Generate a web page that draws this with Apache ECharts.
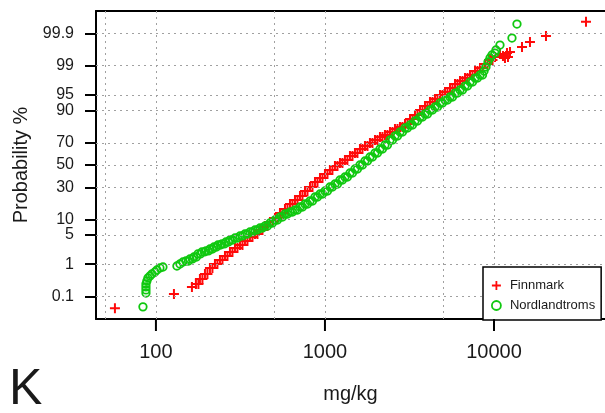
<!DOCTYPE html>
<html>
<head>
<meta charset="utf-8">
<script src="https://cdn.jsdelivr.net/npm/echarts@6/dist/echarts.min.js"></script>
<style>
  html, body { margin: 0; padding: 0; background: #fff; }
  #chart { width: 605px; height: 413px; }
</style>
</head>
<body>
<div id="chart"></div>
<script>
// Cumulative probability (%) tick marks and their labels
const PCT_TICKS = [0.1, 1, 5, 10, 30, 50, 70, 90, 95, 99, 99.9];
const PCT_TICK_LABELS = ['0.1', '1', '5', '10', '30', '50', '70', '90', '95', '99', '99.9'];
// Concentration axis (mg/kg): labelled decades and dotted reference lines
const X_TICKS = [100, 1000, 10000];
const X_GRID = [50, 100, 500, 1000, 5000, 10000];

// K (mg/kg) vs cumulative probability (%), Finnmark
const FINNMARK = [
  [57.2, 0.039], [127.8, 0.123], [163.3, 0.21], [172.4, 0.262], [182.1, 0.372],
  [195.0, 0.526], [208.7, 0.78], [223.4, 1.01], [239.2, 1.29], [256.1, 1.64],
  [274.1, 2.06], [293.5, 2.57], [314.2, 3.02], [336.3, 3.72], [360.0, 4.56],
  [385.4, 5.27], [412.6, 6.35], [441.7, 7.61], [472.8, 9.05], [506.1, 10.67],
  [541.8, 12.99], [580.0, 15.08], [620.9, 17.99], [664.7, 20.57], [711.6, 23.34],
  [761.8, 27.09], [815.5, 30.28], [873.0, 34.49], [934.5, 38.01], [1000, 41.63],
  [1070, 45.33], [1146, 49.06], [1227, 51.87], [1313, 54.67], [1406, 58.37],
  [1505, 61.09], [1611, 64.63], [1725, 67.21], [1846, 69.70], [1977, 72.13],
  [2116, 74.44], [2265, 75.93], [2425, 78.08], [2596, 80.09], [2779, 81.37],
  [2975, 83.19], [3185, 85.98], [3409, 87.97], [3650, 90.16], [3907, 91.69],
  [4182, 93.04], [4477, 93.93], [4793, 94.98], [5131, 95.67], [5493, 96.47],
  [5880, 97.13], [6295, 97.57], [6739, 97.94], [7214, 98.27], [7723, 98.63],
  [8267, 98.86], [8850, 99.11], [9474, 99.315], [10137, 99.44], [10852, 99.54],
  [11305, 99.475], [11618, 99.40], [11937, 99.57], [12100, 99.44], [12436, 99.60],
  [14650, 99.72], [16330, 99.805], [20310, 99.877], [35030, 99.961],
  // second run of samples through the dense part of the band
  [178.4, 0.262], [188.4, 0.372], [201.7, 0.526], [215.9, 0.78], [231.1, 1.01],
  [247.5, 1.29], [265.0, 1.64], [283.6, 2.06], [303.7, 2.57], [325.1, 3.02],
  [347.9, 3.72], [372.5, 4.56], [398.7, 5.27], [426.9, 6.35], [457.0, 7.61],
  [489.2, 9.05], [523.6, 10.67], [560.5, 12.99], [600.1, 15.08], [642.4, 17.99],
  [687.7, 20.57], [736.2, 23.34], [788.2, 27.09], [843.7, 30.28], [903.2, 34.49],
  [966.9, 38.01], [1035, 41.63], [1107, 45.33], [1186, 49.06], [1269, 51.87],
  [1358, 54.67], [1455, 58.37], [1557, 61.09], [1667, 64.63], [1785, 67.21],
  [1910, 69.70], [2045, 72.13], [2189, 74.44], [2343, 75.93], [2509, 78.08],
  [2686, 80.09], [2875, 81.37], [3078, 83.19], [3295, 85.98], [3527, 87.97],
  [3776, 90.16], [4042, 91.69], [4327, 93.04], [4632, 93.93], [4959, 94.98],
  [5309, 95.67], [5683, 96.47], [6083, 97.13], [6513, 97.57], [6972, 97.94],
  [7464, 98.27], [7990, 98.63], [8553, 98.86], [9156, 99.11], [9802, 99.315]
];

// K (mg/kg) vs cumulative probability (%), Nordlandtroms
const NORDLANDTROMS = [
  [83.8, 0.0435], [87.3, 0.133], [87.3, 0.168], [87.3, 0.21], [87.3, 0.262],
  [88.4, 0.324], [89.7, 0.399], [92.2, 0.458], [94.7, 0.526], [98.6, 0.601],
  [101.4, 0.685], [105.6, 0.782], [110.0, 0.833], [133.1, 0.887], [138.7, 1.008],
  [144.5, 1.14], [150.6, 1.21], [158.9, 1.37], [167.8, 1.54], [177.1, 1.84],
  [187.1, 2.06], [197.6, 2.18], [208.7, 2.43], [220.4, 2.71], [232.8, 3.02],
  [245.8, 3.19], [259.6, 3.53], [274.1, 3.92], [293.5, 4.33], [314.2, 4.79],
  [336.3, 5.27], [360.0, 5.80], [385.4, 6.35], [412.6, 6.96], [441.7, 7.61],
  [472.8, 8.67], [506.1, 9.84], [541.8, 11.12], [580.0, 12.51], [620.9, 13.50],
  [664.7, 14.55], [711.6, 16.22], [761.8, 17.99], [815.5, 19.91], [873.0, 22.63],
  [934.5, 24.81], [1000, 27.09], [1070, 30.28], [1146, 32.79], [1227, 36.24],
  [1313, 38.91], [1406, 42.55], [1505, 46.26], [1611, 50.0], [1725, 53.74],
  [1846, 57.45], [1977, 61.09], [2116, 64.63], [2265, 68.06], [2425, 72.13],
  [2596, 75.19], [2779, 78.08], [2975, 80.73], [3185, 82.60], [3409, 84.91],
  [3650, 87.00], [3907, 88.43], [4182, 90.16], [4477, 91.33], [4793, 92.72],
  [5131, 93.64], [5493, 94.48], [5880, 95.44], [6295, 96.08], [6739, 96.81],
  [7214, 97.43], [7723, 97.94], [8267, 98.27], [8734, 98.63], [8968, 98.93],
  [9215, 99.22], [9474, 99.40], [9732, 99.51], [10137, 99.57], [10276, 99.653],
  [10852, 99.757], [12779, 99.856], [13680, 99.953],
  // second run of samples through the dense part of the band
  [155.8, 1.21], [164.4, 1.37], [173.6, 1.54], [183.2, 1.84], [193.6, 2.06],
  [204.4, 2.18], [215.9, 2.43], [228.0, 2.71], [240.9, 3.02], [254.3, 3.19],
  [268.6, 3.53], [283.6, 3.92], [303.7, 4.33], [325.1, 4.79], [347.9, 5.27],
  [372.5, 5.80], [398.7, 6.35], [426.9, 6.96], [457.0, 7.61], [489.2, 8.67],
  [523.6, 9.84], [560.5, 11.12], [600.1, 12.51], [642.4, 13.50], [687.7, 14.55],
  [736.2, 16.22], [788.2, 17.99], [843.7, 19.91], [903.2, 22.63], [966.9, 24.81],
  [1035, 27.09], [1107, 30.28], [1186, 32.79], [1269, 36.24], [1358, 38.91],
  [1455, 42.55], [1557, 46.26], [1667, 50.0], [1785, 53.74], [1910, 57.45],
  [2045, 61.09], [2189, 64.63], [2343, 68.06], [2509, 72.13], [2686, 75.19],
  [2875, 78.08], [3078, 80.73], [3295, 82.60], [3527, 84.91], [3776, 87.00],
  [4042, 88.43], [4327, 90.16], [4632, 91.33], [4959, 92.72], [5309, 93.64],
  [5683, 94.48], [6083, 95.44], [6513, 96.08], [6972, 96.81], [7464, 97.43],
  [7990, 97.94], [8553, 98.27]
];

// Inverse standard normal CDF (Acklam's rational approximation): maps a
// cumulative probability onto the normal-probability scale of the y axis.
function probit(p) {
  const a = [-3.969683028665376e+01, 2.209460984245205e+02, -2.759285104469687e+02,
             1.383577518672690e+02, -3.066479806614716e+01, 2.506628277459239e+00];
  const b = [-5.447609879822406e+01, 1.615858368580409e+02, -1.556989798598866e+02,
             6.680131188771972e+01, -1.328068155288572e+01];
  const c = [-7.784894002430293e-03, -3.223964580411365e-01, -2.400758277161838e+00,
             -2.549732539343734e+00, 4.374664141464968e+00, 2.938163982698783e+00];
  const d = [7.784695709041462e-03, 3.224671290700398e-01, 2.445134137142996e+00,
             3.754408661907416e+00];
  const plow = 0.02425, phigh = 1 - plow;
  let q, r;
  if (p < plow) {
    q = Math.sqrt(-2 * Math.log(p));
    return (((((c[0]*q+c[1])*q+c[2])*q+c[3])*q+c[4])*q+c[5]) /
           ((((d[0]*q+d[1])*q+d[2])*q+d[3])*q+1);
  }
  if (p <= phigh) {
    q = p - 0.5; r = q * q;
    return (((((a[0]*r+a[1])*r+a[2])*r+a[3])*r+a[4])*r+a[5])*q /
           (((((b[0]*r+b[1])*r+b[2])*r+b[3])*r+b[4])*r+1);
  }
  q = Math.sqrt(-2 * Math.log(1 - p));
  return -(((((c[0]*q+c[1])*q+c[2])*q+c[3])*q+c[4])*q+c[5]) /
          ((((d[0]*q+d[1])*q+d[2])*q+d[3])*q+1);
}

const zOf = pct => probit(pct / 100);
const tickZ = PCT_TICKS.map(zOf);
const toPoints = rows => rows.map(([mgkg, pct]) => [mgkg, zOf(pct)]);

const FONT = '"Liberation Sans", Arial, Helvetica, sans-serif';
const TEXT = '#1a1a1a';
const PLUS = 'path://M4,0H6V4H10V6H6V10H4V6H0V4H4Z';
const RED = '#ff0a0a';
const GREEN = '#10c810';
const GRID_LINE = { color: '#a0a0a0', width: 1, type: [2, 4] };
const X_MIN = 44.2, X_MAX = 45380;
const Z_MIN = -3.615, Z_MAX = 3.615;
const X_TICK_LENGTH = 12;

const chart = echarts.init(document.getElementById('chart'), null, { renderer: 'canvas' });

chart.setOption({
  animation: false,
  backgroundColor: '#fff',
  textStyle: { fontFamily: FONT },
  title: {
    text: 'K', left: 9, top: 365, padding: 0,
    textStyle: { fontSize: 50, fontWeight: 'normal', color: TEXT, fontFamily: FONT }
  },
  grid: { left: 96, top: 11, width: 509, height: 308, show: false },
  xAxis: [
    {
      // concentration scale used by the points: frame line and decade labels
      type: 'log', logBase: 10, min: X_MIN, max: X_MAX,
      name: 'mg/kg', nameLocation: 'middle', nameGap: 65,
      nameTextStyle: { fontSize: 20, color: TEXT, fontFamily: FONT },
      axisLine: { show: true, onZero: false, lineStyle: { color: '#000', width: 2 } },
      axisTick: { show: false },
      axisLabel: {
        customValues: X_TICKS, margin: 23, fontSize: 20, color: TEXT, fontFamily: FONT,
        formatter: v => String(Math.round(v))
      },
      splitLine: { show: false },
      minorTick: { show: false }
    },
    {
      // top edge of the frame
      type: 'log', logBase: 10, min: X_MIN, max: X_MAX, position: 'top',
      axisLine: { show: true, onZero: false, lineStyle: { color: '#000', width: 2 } },
      axisTick: { show: false }, axisLabel: { show: false }, splitLine: { show: false }
    }
  ],
  yAxis: {
    type: 'value', min: Z_MIN, max: Z_MAX,
    name: 'Probability %', nameLocation: 'middle', nameGap: 64, nameRotate: 90,
    nameTextStyle: { fontSize: 20, color: TEXT, fontFamily: FONT },
    axisLine: { show: true, onZero: false, lineStyle: { color: '#000', width: 2 } },
    axisTick: { show: true, length: 11, customValues: tickZ, lineStyle: { color: '#000', width: 2 } },
    axisLabel: {
      customValues: tickZ, margin: 22, fontSize: 16, color: TEXT, fontFamily: FONT,
      formatter: v => {
        let best = 0;
        tickZ.forEach((z, i) => { if (Math.abs(z - v) < Math.abs(tickZ[best] - v)) best = i; });
        return PCT_TICK_LABELS[best];
      }
    },
    splitLine: { show: false }
  },
  legend: {
    data: [
      { name: 'Finnmark', icon: PLUS, itemStyle: { color: RED, borderWidth: 0 } },
      { name: 'Nordlandtroms', icon: 'circle',
        itemStyle: { color: 'rgba(0,0,0,0)', borderColor: GREEN, borderWidth: 1.8 } }
    ],
    orient: 'vertical', left: 483, top: 267,
    padding: [12, 6, 8, 8], itemGap: 7, itemWidth: 9, itemHeight: 9,
    backgroundColor: '#fff', borderColor: '#000', borderWidth: 1.5, borderRadius: 0,
    selectedMode: false, z: 10,
    textStyle: { fontSize: 13, color: TEXT, fontFamily: FONT, padding: [0, 0, 0, 4] }
  },
  series: [
    {
      // dotted reference lines behind the points
      name: 'reference', type: 'scatter', data: [], z: 1, silent: true,
      markLine: {
        silent: true, symbol: ['none', 'none'], label: { show: false },
        lineStyle: GRID_LINE, animation: false,
        data: X_GRID.map(v => ({ xAxis: v })).concat(tickZ.map(z => ({ yAxis: z })))
      }
    },
    {
      name: 'Finnmark', type: 'scatter', z: 3,
      symbol: PLUS, symbolSize: 10,
      itemStyle: { color: RED, opacity: 1 },
      data: toPoints(FINNMARK)
    },
    {
      name: 'Nordlandtroms', type: 'scatter', z: 4,
      symbol: 'circle', symbolSize: 7.5,
      itemStyle: { color: 'rgba(0,0,0,0)', borderColor: GREEN, borderWidth: 1.8, opacity: 1 },
      data: toPoints(NORDLANDTROMS)
    }
  ]
});

// Outward tick marks under the labelled decades, placed through the grid's
// coordinate system and drawn on their own layer above the chart
function placeDecadeTicks() {
  const elements = [];
  X_TICKS.forEach(v => {
    const pt = chart.convertToPixel({ gridIndex: 0 }, [v, Z_MIN]);
    if (!pt || !isFinite(pt[0]) || !isFinite(pt[1])) return;
    elements.push({
      type: 'rect', silent: true, zlevel: 1, z: 100,
      shape: { x: pt[0] - 1, y: pt[1], width: 2, height: X_TICK_LENGTH },
      style: { fill: '#000' }
    });
  });
  chart.setOption({ graphic: { elements: elements } });
}
placeDecadeTicks();
</script>
</body>
</html>
